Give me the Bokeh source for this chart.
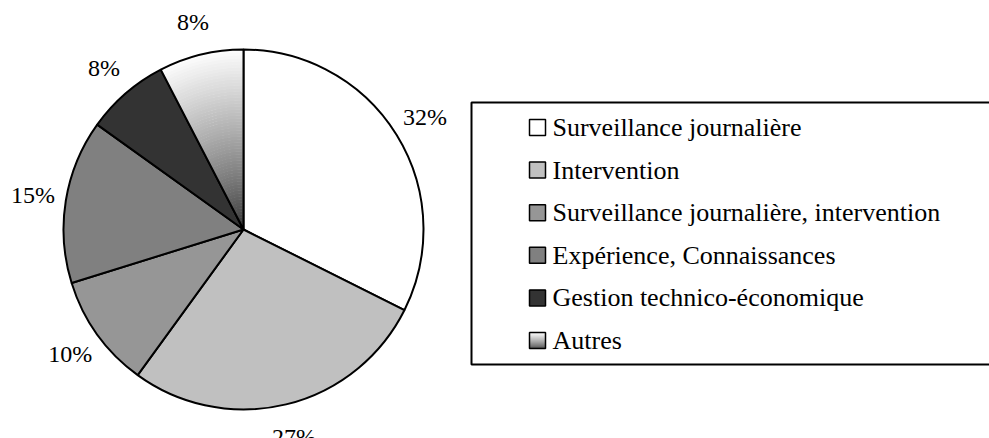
import numpy as np
from bokeh.plotting import figure
from bokeh.models import Range1d
from bokeh.core.properties import value
from bokeh.embed import file_html
from bokeh.resources import INLINE

# ---- data ----
categories = ["Surveillance journalière", "Intervention",
              "Surveillance journalière, intervention", "Expérience, Connaissances",
              "Gestion technico-économique", "Autres"]
shares = [32.4, 27.6, 10.2, 14.7, 7.5, 7.6]
pct_labels = ["32%", "27%", "10%", "15%", "8%", "8%"]
colors = ["#ffffff", "#c0c0c0", "#969696", "#808080", "#333333", None]  # None = gradient

# ---- layout (page pixels) ----
W, H = 989, 438
FONT = "'Liberation Serif', 'Times New Roman', serif"
cx, cy_ref, R = 243, 229, 180

p = figure(width=W, height=H, output_backend="svg", toolbar_location=None,
           x_range=Range1d(0, W), y_range=Range1d(0, H),
           min_border=0, outline_line_color=None, background_fill_color="white")
p.axis.visible = False
p.grid.visible = False

cy = H - cy_ref
vals = np.array(shares, dtype=float)
frac = vals / vals.sum()
cum = np.concatenate([[0], np.cumsum(frac)])
start_deg = 90 - 360 * cum[:-1]
end_deg = 90 - 360 * cum[1:]

def grad(t):
    g = int(round(0x2e + (0xfd - 0x2e) * (t ** 0.8)))
    return "#%02x%02x%02x" % (g, g, g)

for i, c in enumerate(colors):
    if c is None:
        N = 60
        rs = np.linspace(0, R, N + 1)
        for k in range(N):
            t = (rs[k] + rs[k + 1]) / 2 / R
            p.annular_wedge(x=cx, y=cy, inner_radius=rs[k], outer_radius=rs[k + 1] + 0.6,
                            start_angle=np.radians(end_deg[i]), end_angle=np.radians(start_deg[i]),
                            fill_color=grad(t), line_color=None)
        p.wedge(x=cx, y=cy, radius=R, start_angle=np.radians(end_deg[i]),
                end_angle=np.radians(start_deg[i]), fill_alpha=0,
                line_color="black", line_width=2)
    else:
        p.wedge(x=cx, y=cy, radius=R, start_angle=np.radians(end_deg[i]),
                end_angle=np.radians(start_deg[i]), fill_color=c,
                line_color="black", line_width=2)

mid = np.radians(90 - 360 * (cum[:-1] + cum[1:]) / 2)
lr = R * 1.185
p.text(x=cx + lr * np.cos(mid), y=cy + lr * np.sin(mid), text=pct_labels,
       text_font=value(FONT), text_font_size="24px", text_align="center",
       text_baseline="middle", text_color="black")

# legend box
p.quad(left=471, right=1010, top=H - 102, bottom=H - 364,
       fill_color="white", line_color="black", line_width=2)

row0, step = 127, 42.6
sw = 16
sx = 537
for i, (cat, c) in enumerate(zip(categories, colors)):
    yc = H - (row0 + step * i)
    if c is None:
        M = 16
        for k in range(M):
            t = (k + 0.5) / M
            p.rect(x=sx, y=yc - sw / 2 + (k + 0.5) * sw / M, width=sw, height=sw / M + 0.3,
                   fill_color=grad(t), line_color=None)
        p.rect(x=sx, y=yc, width=sw, height=sw, fill_alpha=0, line_color="black", line_width=1.5)
    else:
        p.rect(x=sx, y=yc, width=sw, height=sw, fill_color=c, line_color="black", line_width=1.5)

p.text(x=[552] * len(categories), y=[H - (row0 + step * i) for i in range(len(categories))],
       text=categories, text_font=value(FONT), text_font_size="26px",
       text_align="left", text_baseline="middle", text_color="black")

open("out.html", "w").write(file_html(p, INLINE))
